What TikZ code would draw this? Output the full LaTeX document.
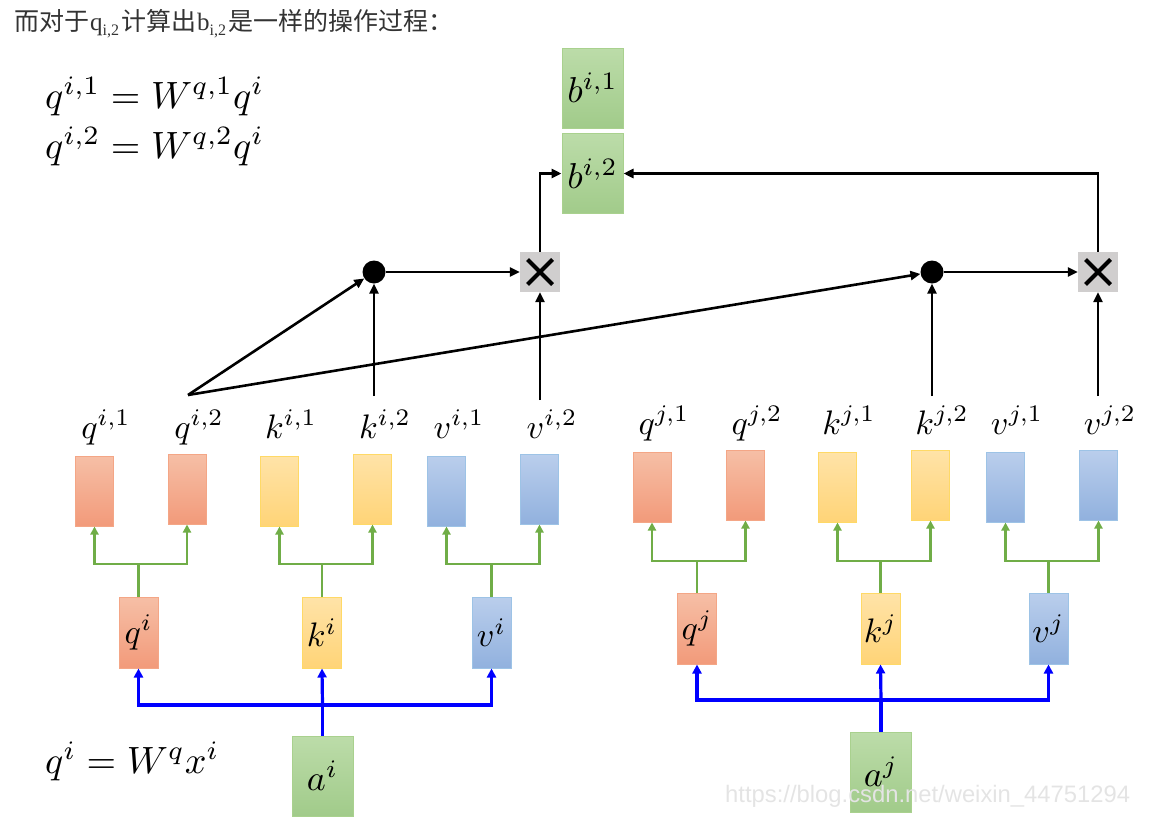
\documentclass[tikz,border=0pt]{standalone}
\usepackage{graphicx}
\usepackage{fontspec}
\newfontfamily\cjkfont{Noto Sans CJK SC}
\newfontfamily\wmfont{Liberation Sans}
\newfontfamily\latfont{Liberation Serif}
\usetikzlibrary{arrows.meta}
\newcommand{\smath}[2]{\scalebox{#1}{$#2$}}
\newcommand{\hsub}[1]{\hspace{1pt}{\latfont\fontsize{25}{28}\selectfont #1}\raisebox{-5pt}{\latfont\fontsize{16}{18}\selectfont i,2}\hspace{2pt}}
\definecolor{ortop}{HTML}{F6BFA6}
\definecolor{orbot}{HTML}{F29A7A}
\definecolor{ordraw}{HTML}{F4A686}
\definecolor{yetop}{HTML}{FFE3A8}
\definecolor{yebot}{HTML}{FFD477}
\definecolor{yedraw}{HTML}{FFD966}
\definecolor{bltop}{HTML}{BACEEC}
\definecolor{blbot}{HTML}{91B1DE}
\definecolor{bldraw}{HTML}{9DC3E6}
\definecolor{grtop}{HTML}{BCDCA9}
\definecolor{grbot}{HTML}{A1CB8A}
\definecolor{grdraw}{HTML}{A9D18E}
\definecolor{xgray}{HTML}{D0CECE}
\definecolor{gline}{HTML}{70AD47}
\definecolor{bline}{HTML}{0000FF}
\definecolor{hdr}{HTML}{333333}
\definecolor{wmc}{HTML}{E4E4E4}
\begin{document}
\begin{tikzpicture}[x=1pt,y=-1pt,
  rect/.style={draw, line width=1pt, minimum width=38pt, minimum height=70pt, inner sep=0pt},
  mrect/.style={draw, line width=1pt, minimum width=39pt, minimum height=71pt, inner sep=0pt},
  orbox/.style={draw=ordraw, top color=ortop, bottom color=orbot},
  yebox/.style={draw=yedraw, top color=yetop, bottom color=yebot},
  blbox/.style={draw=bldraw, top color=bltop, bottom color=blbot},
  grbox/.style={draw=grdraw, line width=1pt, top color=grtop, bottom color=grbot, minimum width=61pt, minimum height=80pt, inner sep=0pt},
  lab/.style={anchor=base, inner sep=0pt},
  eq/.style={anchor=base west, inner sep=0pt},
  xbox/.style={fill=xgray, minimum width=40pt, minimum height=40pt, inner sep=0pt},
  xline/.style={line width=4pt, black},
  dot/.style={circle, fill=black, minimum size=23pt, inner sep=0pt},
  blk/.style={line width=2.6pt, black, -{Triangle[length=10pt,width=9pt]}},
  grn/.style={line width=2.8pt, gline, -{Triangle[length=8pt,width=8pt]}},
  grnl/.style={line width=2.8pt, gline},
  blu/.style={line width=3.2pt, bline, -{Triangle[length=9pt,width=9pt]}},
  blul/.style={line width=3.2pt, bline}
]
\useasboundingbox (0,0) rectangle (1168,822);

% header
\node[anchor=base west, inner sep=0pt, text=hdr, font=\fontsize{25}{29}\selectfont] (title) at (14,30)
  {{\cjkfont 而对于}\hsub{q}{\cjkfont 计算出}\hsub{b}{\cjkfont 是一样的操作过程：}};

% equations
\node[eq] (eq1) at (45,108) {\smath{3.8}{q^{i,1}=W^{q,1}q^{i}}};
\node[eq] (eq2) at (45,158) {\smath{3.8}{q^{i,2}=W^{q,2}q^{i}}};
\node[eq] (eq3) at (45,773) {\smath{3.8}{q^{i}=W^{q}x^{i}}};

% output boxes
\node[grbox] (bi1) at (592.5,88) {\smath{3.6}{b^{i,1}}};
\node[grbox] (bi2) at (592.5,173.5) {\smath{3.6}{b^{i,2}}};

% multiply boxes
\node[xbox] (m1) at (540,272) {};
\node[xbox] (m2) at (1098,272) {};
\foreach \m in {m1,m2}{
  \draw[xline] ([shift={(-12.5,-12.5)}]\m.center) -- ([shift={(12.5,12.5)}]\m.center);
  \draw[xline] ([shift={(-12.5,12.5)}]\m.center) -- ([shift={(12.5,-12.5)}]\m.center);
}

% dots
\node[dot] (d1) at (374,272) {};
\node[dot] (d2) at (932,272) {};

% small rects, i side
\node[rect, orbox] (qi1) at (94.5,491) {};
\node[rect, orbox] (qi2) at (187,489) {};
\node[rect, yebox] (ki1) at (279.5,491) {};
\node[rect, yebox] (ki2) at (372.5,489) {};
\node[rect, blbox] (vi1) at (446.5,491) {};
\node[rect, blbox] (vi2) at (539.5,489) {};
% small rects, j side
\node[rect, orbox] (qj1) at (652,487) {};
\node[rect, orbox] (qj2) at (745.5,485) {};
\node[rect, yebox] (kj1) at (837.5,487) {};
\node[rect, yebox] (kj2) at (930.5,485) {};
\node[rect, blbox] (vj1) at (1005.5,487) {};
\node[rect, blbox] (vj2) at (1098.5,485) {};

% labels
\node[lab] (lqi1) at (106,438) {\smath{3.4}{q^{i,1}}};
\node[lab] (lqi2) at (199,438) {\smath{3.4}{q^{i,2}}};
\node[lab] (lki1) at (291,438) {\smath{3.4}{k^{i,1}}};
\node[lab] (lki2) at (385,438) {\smath{3.4}{k^{i,2}}};
\node[lab] (lvi1) at (459,438) {\smath{3.4}{v^{i,1}}};
\node[lab] (lvi2) at (552,438) {\smath{3.4}{v^{i,2}}};
\node[lab] (lqj1) at (664,434) {\smath{3.4}{q^{j,1}}};
\node[lab] (lqj2) at (757,434) {\smath{3.4}{q^{j,2}}};
\node[lab] (lkj1) at (849,434) {\smath{3.4}{k^{j,1}}};
\node[lab] (lkj2) at (942,434) {\smath{3.4}{k^{j,2}}};
\node[lab] (lvj1) at (1017,434) {\smath{3.4}{v^{j,1}}};
\node[lab] (lvj2) at (1110,434) {\smath{3.4}{v^{j,2}}};

% middle boxes
\node[mrect, orbox] (qi) at (138.5,632.5) {\smath{3.4}{q^{i}}};
\node[mrect, yebox] (ki) at (322,632.5) {\smath{3.4}{k^{i}}};
\node[mrect, blbox] (vi) at (491.5,632.5) {\smath{3.4}{v^{i}}};
\node[mrect, orbox] (qj) at (697,628.5) {\smath{3.4}{q^{j}}};
\node[mrect, yebox] (kj) at (880.5,628.5) {\smath{3.4}{k^{j}}};
\node[mrect, blbox] (vj) at (1048.5,628.5) {\smath{3.4}{v^{j}}};

% inputs
\node[grbox] (ai) at (322.5,776) {\smath{3.6}{a^{i}}};
\node[grbox] (aj) at (881,772) {\smath{3.6}{a^{j}}};

% green splits
\foreach \s/\l/\r/\yy in {qi/qi1/qi2/564, ki/ki1/ki2/564, vi/vi1/vi2/564, qj/qj1/qj2/561, kj/kj1/kj2/561, vj/vj1/vj2/561}{
  \coordinate (g\s) at (\s.north |- 0,\yy);
  \draw[grnl] (\s.north) -- (g\s);
  \draw[grn] (g\s) -| (\l.south);
  \draw[grn] (g\s) -| (\r.south);
}

% blue feeds
\coordinate (bi) at (ai.north |- 0,705);
\draw[blul] (ai.north) -- (bi);
\draw[blu] (bi) -| (qi.south);
\draw[blu] (bi) -- (ki.south);
\draw[blu] (bi) -| (vi.south);
\coordinate (bj) at (aj.north |- 0,700);
\draw[blul] (aj.north) -- (bj);
\draw[blu] (bj) -| (qj.south);
\draw[blu] (bj) -- (kj.south);
\draw[blu] (bj) -| (vj.south);

% attention connectors
\coordinate (sq) at (188,395);
\coordinate (sk) at (374,396);
\coordinate (sv) at (540,400);
\coordinate (skj) at (932,396);
\coordinate (svj) at (1098,396);
\draw[blk] (sq) -- (d1);
\draw[blk] (sq) -- (d2);
\draw[blk] (sk) -- (d1);
\draw[blk] (sv) -- (m1);
\draw[blk] (skj) -- (d2);
\draw[blk] (svj) -- (m2);
\draw[blk] (d1) -- (m1);
\draw[blk] (d2) -- (m2);
\draw[blk] (m1.north) |- (bi2.west);
\draw[blk] (m2.north) |- (bi2.east);

% watermark
\node[anchor=base west, inner sep=0pt, text=wmc, font=\wmfont\fontsize{23.8}{27}\selectfont] (wm) at (725,802) {https://blog.csdn.net/weixin\_44751294};
\end{tikzpicture}
\end{document}
